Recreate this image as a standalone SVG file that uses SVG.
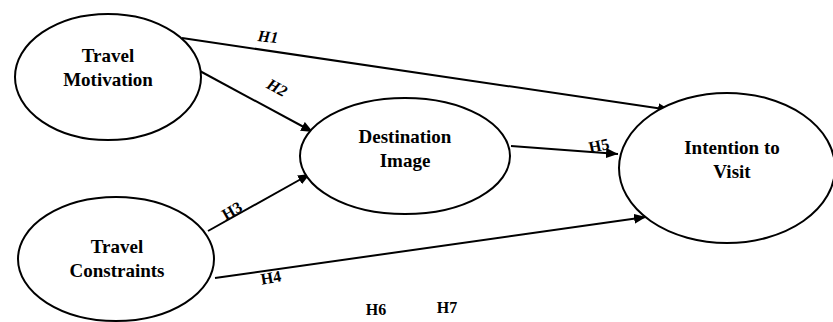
<svg xmlns="http://www.w3.org/2000/svg" width="833" height="322" viewBox="0 0 833 322">
<style>
.node ellipse{fill:#fff;stroke:#000;stroke-width:2}
.node text{font-family:"Liberation Serif","Times New Roman",serif;font-weight:bold;font-size:19px;text-anchor:middle;fill:#000}
.conn line{stroke:#000;stroke-width:2}
.lbl{font-family:"Liberation Serif","Times New Roman",serif;font-weight:bold;font-size:16px;text-anchor:middle;fill:#000}
.it{font-style:italic}
</style>
<defs>
<marker id="arr" viewBox="0 0 12 10" refX="12" refY="5" markerWidth="12" markerHeight="10" markerUnits="userSpaceOnUse" orient="auto">
<path d="M0,0 L12,5 L0,10 Z" fill="#000"/>
</marker>
</defs>
<g id="connectors" class="conn">
<line id="h1" x1="182" y1="38" x2="670" y2="110" marker-end="url(#arr)"/>
<line id="h2" x1="198" y1="70" x2="313" y2="132" marker-end="url(#arr)"/>
<line id="h3" x1="208" y1="231" x2="310" y2="174" marker-end="url(#arr)"/>
<line id="h4" x1="215" y1="278" x2="646" y2="217" marker-end="url(#arr)"/>
<line id="h5" x1="511" y1="146" x2="618" y2="154" marker-end="url(#arr)"/>
</g>
<g id="node-motivation" class="node">
<ellipse cx="108" cy="77" rx="93" ry="63"/>
<text x="108" y="62">Travel</text>
<text x="108" y="86">Motivation</text>
</g>
<g id="node-image" class="node">
<ellipse cx="405" cy="156" rx="105" ry="58"/>
<text x="405" y="143">Destination</text>
<text x="405" y="167">Image</text>
</g>
<g id="node-constraints" class="node">
<ellipse cx="116" cy="259" rx="98" ry="62"/>
<text x="117" y="253">Travel</text>
<text x="117" y="277">Constraints</text>
</g>
<g id="node-intention" class="node">
<ellipse cx="727" cy="168" rx="108" ry="75"/>
<text x="732" y="154">Intention to</text>
<text x="732" y="178">Visit</text>
</g>
<g id="labels">
<text class="lbl it" x="268" y="42" transform="rotate(6 268 37)">H1</text>
<text class="lbl it" x="277" y="93" transform="rotate(28 277 88)">H2</text>
<text class="lbl" x="232" y="216" transform="rotate(-30 232 211)">H3</text>
<text class="lbl" x="271" y="283" transform="rotate(-10 271 278)">H4</text>
<text class="lbl" x="599" y="151" transform="rotate(-12 599 146)">H5</text>
<text class="lbl" x="376" y="315">H6</text>
<text class="lbl" x="447" y="313">H7</text>
</g>
</svg>
